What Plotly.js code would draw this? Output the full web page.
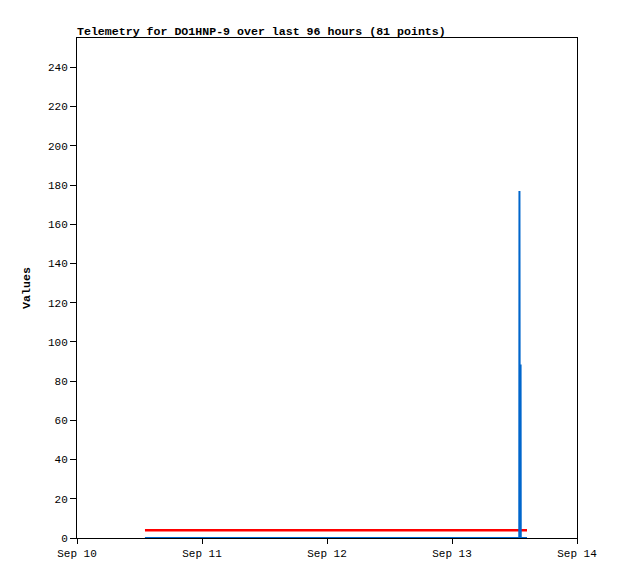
<!DOCTYPE html>
<html>
<head>
<meta charset="utf-8">
<script src="https://cdn.plot.ly/plotly-3.0.1.min.js"></script>
<style>html,body{margin:0;padding:0;background:#fff;}</style>
</head>
<body>
<div id="chart" style="width:618px;height:579px;"></div>
<script>
// Series data
const baseTimes = ["2024-09-10 13:03", "2024-09-13 14:24"];
const blackValues = [0, 0];
const redValues = [4, 4];
const blueTimes = ["2024-09-10 13:03", "2024-09-13 12:55", "2024-09-13 12:57", "2024-09-13 12:59", "2024-09-13 13:10", "2024-09-13 13:12", "2024-09-13 14:24"];
const blueValues = [0, 0, 177, 88, 88, 0, 0];
const xTickRange = ["2024-09-10", "2024-09-14"];
const yTickValues = [0, 20, 40, 60, 80, 100, 120, 140, 160, 180, 200, 220, 240];

const mono = "Liberation Mono, DejaVu Sans Mono, monospace";

const traces = [
  {x: baseTimes, y: blackValues, mode: "lines", line: {color: "#000000", width: 2}, hoverinfo: "skip"},
  {x: baseTimes, y: redValues, mode: "lines", line: {color: "#ff0000", width: 2.5}, hoverinfo: "skip"},
  {x: blueTimes, y: blueValues, mode: "lines", line: {color: "#0066cc", width: 2}, hoverinfo: "skip"}
];

const layout = {
  width: 618, height: 579,
  margin: {l: 77, r: 41, t: 38, b: 41},
  paper_bgcolor: "#ffffff", plot_bgcolor: "#ffffff",
  showlegend: false,
  title: {text: "<b>Telemetry for DO1HNP-9 over last 96 hours (81 points)</b>", x: 0, xref: "paper", xanchor: "left", y: 1, yref: "paper", yanchor: "bottom", pad: {b: 3}, font: {family: mono, size: 11.6, color: "#000"}},
  xaxis: {
    type: "date", range: xTickRange, dtick: 86400000, tick0: xTickRange[0], tickformat: "%b %d",
    showgrid: false, zeroline: false, showline: true, linecolor: "#000", linewidth: 1, mirror: true,
    ticks: "outside", ticklen: 5, tickcolor: "#000", tickfont: {family: mono, size: 11, color: "#000"}
  },
  yaxis: {
    range: [0, 255], tickvals: yTickValues, ticktext: yTickValues.map(String),
    showgrid: false, zeroline: false, showline: true, linecolor: "#000", linewidth: 1, mirror: true,
    ticks: "outside", ticklen: 6, tickcolor: "#000", tickfont: {family: mono, size: 11, color: "#000"},
    title: {text: "<b>Values</b>", font: {family: mono, size: 11.6, color: "#000"}, standoff: 14}
  }
};

Plotly.newPlot("chart", traces, layout, {displayModeBar: false, staticPlot: true});
</script>
</body>
</html>
